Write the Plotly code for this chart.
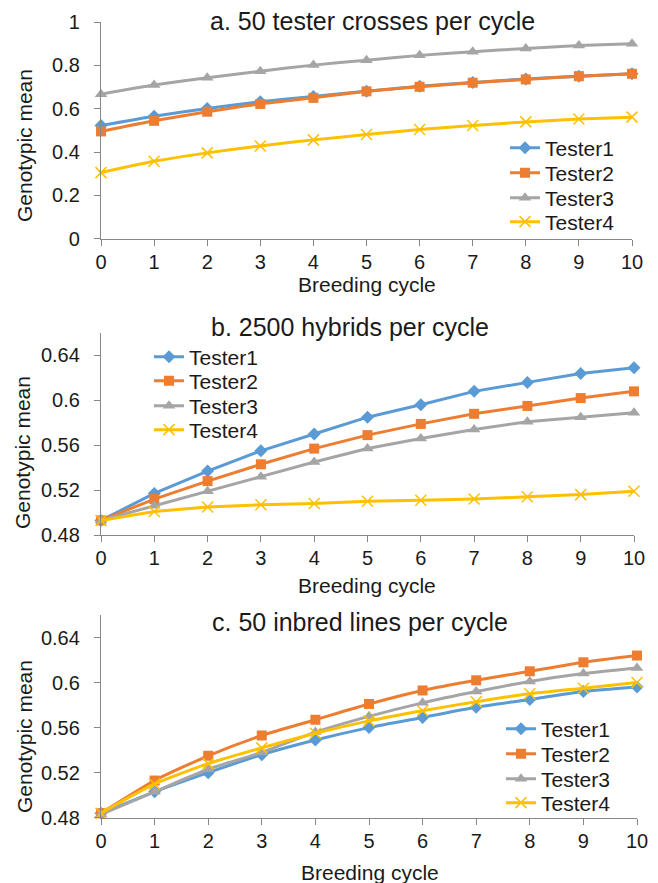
import plotly.graph_objects as go

cycles = list(range(11))
tick_text_x = [str(c) for c in cycles]
testers = ["Tester1", "Tester2", "Tester3", "Tester4"]

# Panel a: 50 tester crosses per cycle
a_t1 = [0.522, 0.565, 0.601, 0.632, 0.656, 0.681, 0.703, 0.721, 0.737, 0.750, 0.761]
a_t2 = [0.495, 0.544, 0.586, 0.622, 0.650, 0.680, 0.701, 0.720, 0.735, 0.750, 0.761]
a_t3 = [0.667, 0.709, 0.743, 0.773, 0.801, 0.824, 0.846, 0.863, 0.878, 0.891, 0.900]
a_t4 = [0.305, 0.357, 0.396, 0.428, 0.456, 0.481, 0.504, 0.522, 0.539, 0.552, 0.561]

# Panel b: 2500 hybrids per cycle
b_t1 = [0.493, 0.517, 0.537, 0.555, 0.570, 0.585, 0.596, 0.608, 0.616, 0.624, 0.629]
b_t2 = [0.493, 0.512, 0.528, 0.543, 0.557, 0.569, 0.579, 0.588, 0.595, 0.602, 0.608]
b_t3 = [0.493, 0.506, 0.519, 0.532, 0.545, 0.557, 0.566, 0.574, 0.581, 0.585, 0.589]
b_t4 = [0.493, 0.501, 0.505, 0.507, 0.508, 0.510, 0.511, 0.512, 0.514, 0.516, 0.519]

# Panel c: 50 inbred lines per cycle
c_t1 = [0.484, 0.503, 0.520, 0.536, 0.549, 0.560, 0.569, 0.578, 0.585, 0.592, 0.596]
c_t2 = [0.484, 0.513, 0.535, 0.553, 0.567, 0.581, 0.593, 0.602, 0.610, 0.618, 0.624]
c_t3 = [0.483, 0.503, 0.523, 0.538, 0.556, 0.570, 0.582, 0.592, 0.601, 0.608, 0.613]
c_t4 = [0.484, 0.510, 0.528, 0.542, 0.555, 0.566, 0.575, 0.583, 0.590, 0.595, 0.600]

a_ticks = [0, 0.2, 0.4, 0.6, 0.8, 1]
a_ticktext = ["0", "0.2", "0.4", "0.6", "0.8", "1"]
bc_ticks = [0.48, 0.52, 0.56, 0.60, 0.64]
bc_ticktext = ["0.48", "0.52", "0.56", "0.6", "0.64"]

titles = ["a. 50 tester crosses per cycle", "b. 2500 hybrids per cycle", "c. 50 inbred lines per cycle"]
x_title = "Breeding cycle"
y_title = "Genotypic mean"

colors = ["#5B9BD5", "#ED7D31", "#A5A5A5", "#FFC000"]
FONT = "Liberation Sans, Arial, sans-serif"
W, H = 658, 883


def px_x(v):
    return v / W


def px_y(v):
    return 1 - v / H


def marker_for(i):
    if i == 0:
        return dict(symbol="diamond", size=10, color=colors[0])
    if i == 1:
        return dict(symbol="square", size=10, color=colors[1])
    if i == 2:
        return dict(symbol="triangle-up", size=11, color=colors[2])
    return dict(symbol="x-thin-open", size=11, color=colors[3], line=dict(color=colors[3], width=1.5))


fig = go.Figure()

# legend placement per panel: (left x of legend in px, row centre y's in px)
panels = [
    dict(data=[a_t1, a_t2, a_t3, a_t4], xa="x", ya="y", shape="spline",
         leg_x=505, leg_rows=[148, 173, 198, 222]),
    dict(data=[b_t1, b_t2, b_t3, b_t4], xa="x2", ya="y2", shape="linear",
         leg_x=149, leg_rows=[357, 381, 406, 430]),
    dict(data=[c_t1, c_t2, c_t3, c_t4], xa="x3", ya="y3", shape="spline",
         leg_x=501, leg_rows=[729, 754, 779, 803]),
]

legend_common = dict(font=dict(family=FONT, size=21, color="#1a1a1a"), bgcolor="rgba(0,0,0,0)",
                     tracegroupgap=0, xanchor="left", yanchor="middle", itemclick=False,
                     borderwidth=0)
legend_layout = {}
k = 0
for p in panels:
    for i, (name, vals) in enumerate(zip(testers, p["data"])):
        k += 1
        lid = "legend" if k == 1 else f"legend{k}"
        legend_layout[lid] = dict(legend_common, x=px_x(p["leg_x"]), y=px_y(p["leg_rows"][i]))
        fig.add_trace(go.Scatter(
            x=cycles, y=vals, name=name, mode="lines+markers",
            line=dict(color=colors[i], width=3, shape=p["shape"], smoothing=0.6),
            marker=marker_for(i),
            xaxis=p["xa"], yaxis=p["ya"], legend=lid,
            cliponaxis=False,
        ))

axis_color = "#878787"
common_x = dict(range=[0, 10], tickmode="array", tickvals=cycles, ticktext=tick_text_x,
                showgrid=False, zeroline=False, showline=True, linecolor=axis_color, linewidth=1.3,
                ticks="outside", ticklen=6, tickcolor=axis_color, tickwidth=1.3, automargin=False,
                tickfont=dict(family=FONT, size=20, color="#1a1a1a"), ticklabelstandoff=-1)
common_y = dict(showgrid=False, zeroline=False, showline=True, linecolor=axis_color, linewidth=1.3,
                ticks="outside", ticklen=6, tickcolor=axis_color, tickwidth=1.3, automargin=False,
                tickfont=dict(family=FONT, size=20, color="#1a1a1a"), ticklabelstandoff=10)

fig.update_layout(
    template="none",
    width=W, height=H,
    margin=dict(l=0, r=0, t=0, b=0, pad=0, autoexpand=False),
    paper_bgcolor="white", plot_bgcolor="white",
    xaxis=dict(common_x, domain=[px_x(101), px_x(632)], anchor="y"),
    yaxis=dict(common_y, domain=[px_y(238.7), px_y(22)], range=[0, 1], tickvals=a_ticks, ticktext=a_ticktext, anchor="x"),
    xaxis2=dict(common_x, domain=[px_x(101), px_x(634)], anchor="y2"),
    yaxis2=dict(common_y, domain=[px_y(535), px_y(333)], range=[0.48, 0.66], tickvals=bc_ticks, ticktext=bc_ticktext, anchor="x2"),
    xaxis3=dict(common_x, domain=[px_x(101), px_x(637)], anchor="y3"),
    yaxis3=dict(common_y, domain=[px_y(817.7), px_y(615)], range=[0.48, 0.66], tickvals=bc_ticks, ticktext=bc_ticktext, anchor="x3"),
    showlegend=True,
    **legend_layout,
)

ann = []
title_pos = [(372, 21), (350, 327), (360, 622)]
for t, (x, y) in zip(titles, title_pos):
    ann.append(dict(text=t, x=px_x(x), y=px_y(y), xref="paper", yref="paper", showarrow=False,
                    xanchor="center", yanchor="middle", font=dict(family=FONT, size=25, color="#1a1a1a")))
xt_pos = [(367, 284), (367, 585), (370, 872)]
for x, y in xt_pos:
    ann.append(dict(text=x_title, x=px_x(x), y=px_y(y), xref="paper", yref="paper", showarrow=False,
                    xanchor="center", yanchor="middle", font=dict(family=FONT, size=21, color="#1a1a1a")))
yt_pos = [(24, 146), (23, 453), (24, 737)]
for x, y in yt_pos:
    ann.append(dict(text=y_title, x=px_x(x), y=px_y(y), xref="paper", yref="paper", showarrow=False,
                    textangle=-90, xanchor="center", yanchor="middle", font=dict(family=FONT, size=21, color="#1a1a1a")))
fig.update_layout(annotations=ann)

fig.write_html("out.html", config={"displayModeBar": False},
               post_script="document.body.style.margin='0';document.body.style.overflow='hidden';")
